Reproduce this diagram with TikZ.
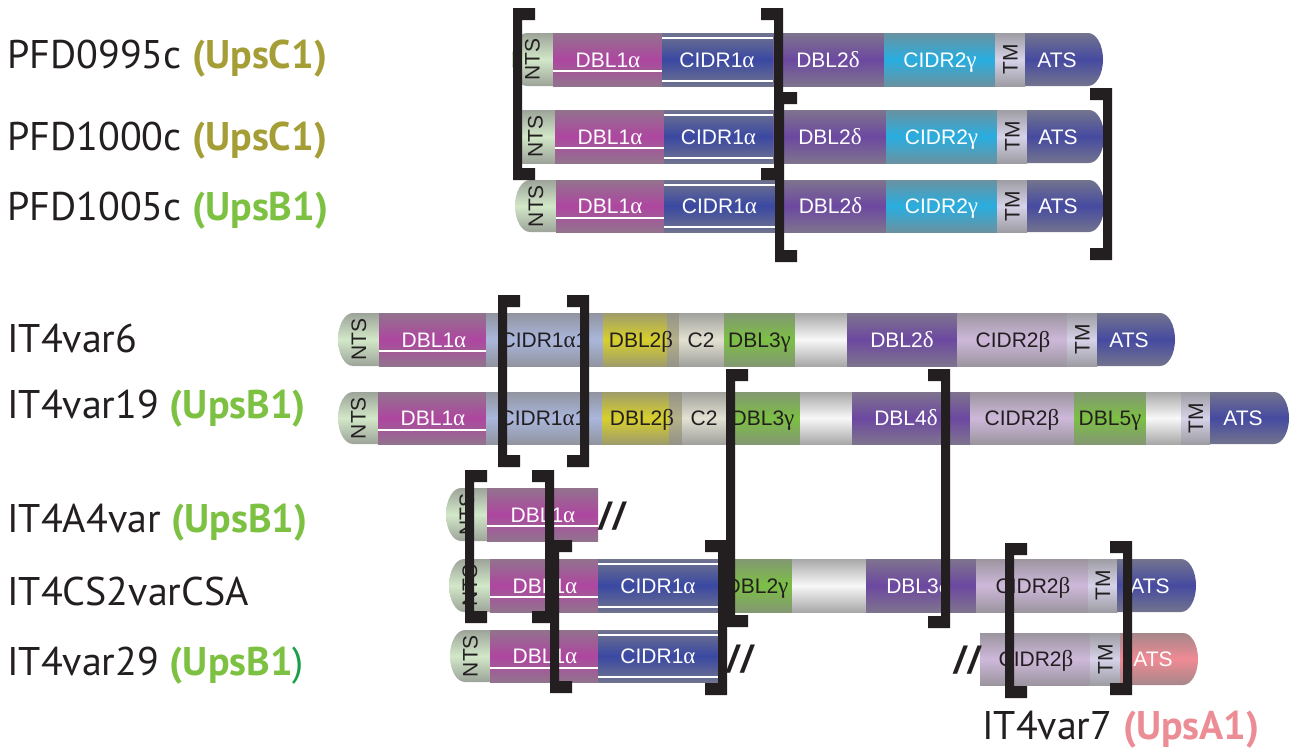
\documentclass[tikz,border=0pt]{standalone}
\usepackage{fontspec}
\newfontfamily\segfam{Liberation Sans}
\newfontfamily\grkfam{Liberation Serif}
\newfontfamily\lblfam{PT Sans}
\definecolor{edgegray}{HTML}{868686}
\definecolor{ntscol}{HTML}{D2E8C8}
\definecolor{dbla}{HTML}{AE46A0}
\definecolor{cidra}{HTML}{3A48A2}
\definecolor{dbld}{HTML}{6C48A0}
\definecolor{cidrg}{HTML}{28AEE0}
\definecolor{tmcol}{HTML}{D6D2E8}
\definecolor{atscol}{HTML}{464AA0}
\definecolor{cidral}{HTML}{AAB6DC}
\definecolor{dblb}{HTML}{D8D02C}
\definecolor{stripcol}{HTML}{B4B08A}
\definecolor{c2col}{HTML}{E2E1D2}
\definecolor{dblg}{HTML}{7CC044}
\definecolor{blankcol}{HTML}{F8F8F8}
\definecolor{cidrb}{HTML}{CEB8DA}
\definecolor{atspink}{HTML}{F08A94}
\definecolor{brkcol}{HTML}{231F20}
\definecolor{txtdark}{HTML}{231F20}
\definecolor{upsc}{HTML}{A59E36}
\definecolor{upsb}{HTML}{7DC142}
\definecolor{upsa}{HTML}{EC8C95}
\definecolor{parengreen}{HTML}{1AA04A}
\newcommand\segfont{\segfam\fontsize{21}{21}\selectfont}
\newcommand\lblfont{\lblfam\fontsize{40}{40}\selectfont}
\newcommand\slashfont{\segfam\bfseries\itshape\fontsize{38}{38}\selectfont}
\newcommand\gk[1]{{\grkfam\fontsize{23}{23}\selectfont #1}}
% plain segment: x1 x2 top bottom colour
\newcommand\seg[5]{\shade[top color=#5!30!edgegray, bottom color=#5!30!edgegray, middle color=#5] (#1,#3) rectangle (#2,#4);}
% segment rounded on the left
\newcommand\segL[5]{\pgfmathsetmacro\segry{(#4-#3)/2}%
  \shade[top color=#5!30!edgegray, bottom color=#5!30!edgegray, middle color=#5] ({#1+15},#3) arc[start angle=90,end angle=270,x radius=15pt,y radius=\segry pt] -- (#2,#4) -- (#2,#3) -- cycle;}
% segment rounded on the right
\newcommand\segR[5]{\pgfmathsetmacro\segry{(#4-#3)/2}%
  \shade[top color=#5!30!edgegray, bottom color=#5!30!edgegray, middle color=#5] (#1,#3) -- ({#2-15},#3) arc[start angle=90,end angle=-90,x radius=15pt,y radius=\segry pt] -- (#1,#4) -- cycle;}
% brackets: x (outer edge), top, bottom
\newcommand\lbrk[3]{\fill[brk] (#1,#2) -- ({#1+22},#2) -- ({#1+22},{#2+12}) -- ({#1+9},{#2+12}) -- ({#1+9},{#3-12}) -- ({#1+22},{#3-12}) -- ({#1+22},#3) -- (#1,#3) -- cycle;}
\newcommand\rbrk[3]{\fill[brk] (#1,#2) -- ({#1-22},#2) -- ({#1-22},{#2+12}) -- ({#1-9},{#2+12}) -- ({#1-9},{#3-12}) -- ({#1-22},{#3-12}) -- ({#1-22},#3) -- (#1,#3) -- cycle;}
\tikzset{
  seglabel/.style={font=\segfont, inner sep=0pt, text height=15pt, text depth=0pt},
  wt/.style={seglabel, text=white},
  bk/.style={seglabel, text=txtdark},
  rotlabel/.style={seglabel, text=txtdark, rotate=90},
  brk/.style={fill=brkcol},
  wline/.style={draw=white, line width=1.2pt},
  rowname/.style={font=\lblfont, anchor=base west, inner sep=0pt, text=txtdark},
  slashmark/.style={font=\slashfont, text=brkcol, inner sep=0pt}
}
\begin{document}
\begin{tikzpicture}[x=1pt,y=-1pt]
\fill[white] (0,0) rectangle (1292,750);
\useasboundingbox (0,0) rectangle (1292,750);

% ---------- Row 1 : PFD0995c ----------
\segL{512}{553}{33}{86}{ntscol}
\seg{553}{662}{33}{86}{dbla}
\seg{662}{773}{33}{86}{cidra}
\seg{773}{884}{33}{86}{dbld}
\seg{884}{995}{33}{86}{cidrg}
\seg{995}{1025}{33}{86}{tmcol}
\segR{1025}{1103}{33}{86}{atscol}
\draw[wline] (553,71) -- (662,71);
\draw[wline] (662,38) -- (773,38);
\draw[wline] (662,81) -- (773,81);
\node[rotlabel] (r1nts) at (532,59.5) {NTS};
\node[wt] (r1dbla) at (608,59.5) {DBL1\gk{α}};
\node[wt] (r1cidra) at (717,59.5) {CIDR1\gk{α}};
\node[wt] (r1dbld) at (828,59.5) {DBL2\gk{δ}};
\node[wt] (r1cidrg) at (940,59.5) {CIDR2\gk{γ}};
\node[rotlabel] (r1tm) at (1010,59.5) {TM};
\node[wt] (r1ats) at (1057,59.5) {ATS};

% ---------- Row 2 : PFD1000c ----------
\seg{515}{555}{110}{163}{ntscol}
\seg{555}{664}{110}{163}{dbla}
\seg{664}{773}{110}{163}{cidra}
\seg{773}{886}{110}{163}{dbld}
\seg{886}{997}{110}{163}{cidrg}
\seg{997}{1027}{110}{163}{tmcol}
\segR{1027}{1104}{110}{163}{atscol}
\draw[wline] (555,148) -- (664,148);
\draw[wline] (664,115) -- (773,115);
\draw[wline] (664,158) -- (773,158);
\node[rotlabel] (r2nts) at (535,136.5) {NTS};
\node[wt] (r2dbla) at (610,136.5) {DBL1\gk{α}};
\node[wt] (r2cidra) at (718.5,136.5) {CIDR1\gk{α}};
\node[wt] (r2dbld) at (830,136.5) {DBL2\gk{δ}};
\node[wt] (r2cidrg) at (941.5,136.5) {CIDR2\gk{γ}};
\node[rotlabel] (r2tm) at (1012,136.5) {TM};
\node[wt] (r2ats) at (1058,136.5) {ATS};

% ---------- Row 3 : PFD1005c ----------
\segL{515}{556}{180}{232}{ntscol}
\seg{556}{664}{180}{232}{dbla}
\seg{664}{775}{180}{232}{cidra}
\seg{775}{886}{180}{232}{dbld}
\seg{886}{997}{180}{232}{cidrg}
\seg{997}{1027}{180}{232}{tmcol}
\segR{1027}{1104}{180}{232}{atscol}
\draw[wline] (556,218) -- (664,218);
\draw[wline] (664,185) -- (775,185);
\draw[wline] (664,227) -- (775,227);
\node[rotlabel] (r3nts) at (535.5,206) {NTS};
\node[wt] (r3dbla) at (610,206) {DBL1\gk{α}};
\node[wt] (r3cidra) at (719.5,206) {CIDR1\gk{α}};
\node[wt] (r3dbld) at (830.5,206) {DBL2\gk{δ}};
\node[wt] (r3cidrg) at (941.5,206) {CIDR2\gk{γ}};
\node[rotlabel] (r3tm) at (1012,206) {TM};
\node[wt] (r3ats) at (1058,206) {ATS};

% ---------- Row 4 : IT4var6 ----------
\segL{338}{379}{313}{366}{ntscol}
\seg{379}{486}{313}{366}{dbla}
\seg{486}{603}{313}{366}{cidral}
\seg{603}{667}{313}{366}{dblb}
\seg{667}{679}{313}{366}{stripcol}
\seg{679}{724}{313}{366}{c2col}
\seg{724}{795}{313}{366}{dblg}
\seg{795}{847}{313}{366}{blankcol}
\seg{847}{957}{313}{366}{dbld}
\seg{957}{1067}{313}{366}{cidrb}
\seg{1067}{1097}{313}{366}{tmcol}
\segR{1097}{1175}{313}{366}{atscol}
\draw[wline] (379,351) -- (486,351);
\node[rotlabel] (r4nts) at (358.5,339.5) {NTS};
\node[wt] (r4dbla) at (434,339.5) {DBL1\gk{α}};
\node[bk] (r4cidra) at (544,339.5) {CIDR1\gk{α}1};
\node[bk] (r4dblb) at (641,339.5) {DBL2\gk{β}};
\node[bk] (r4c2) at (701,339.5) {C2};
\node[bk] (r4dblg) at (759.5,339.5) {DBL3\gk{γ}};
\node[wt] (r4dbld) at (902,339.5) {DBL2\gk{δ}};
\node[bk] (r4cidrb) at (1013,339.5) {CIDR2\gk{β}};
\node[rotlabel] (r4tm) at (1082,339.5) {TM};
\node[wt] (r4ats) at (1129,339.5) {ATS};

% ---------- Row 5 : IT4var19 ----------
\segL{338}{378}{392}{444}{ntscol}
\seg{378}{486}{392}{444}{dbla}
\seg{486}{602}{392}{444}{cidral}
\seg{602}{669}{392}{444}{dblb}
\seg{669}{682}{392}{444}{stripcol}
\seg{682}{726}{392}{444}{c2col}
\seg{726}{800}{392}{444}{dblg}
\seg{800}{852}{392}{444}{blankcol}
\seg{852}{970}{392}{444}{dbld}
\seg{970}{1074}{392}{444}{cidrb}
\seg{1074}{1146}{392}{444}{dblg}
\seg{1146}{1181}{392}{444}{blankcol}
\seg{1181}{1210}{392}{444}{tmcol}
\segR{1210}{1289}{392}{444}{atscol}
\draw[wline] (378,430) -- (486,430);
\node[rotlabel] (r5nts) at (358,418) {NTS};
\node[wt] (r5dbla) at (433,418) {DBL1\gk{α}};
\node[bk] (r5cidra) at (543,418) {CIDR1\gk{α}1};
\node[bk] (r5dblb) at (642,418) {DBL2\gk{β}};
\node[bk] (r5c2) at (704,418) {C2};
\node[bk] (r5dblg) at (763,418) {DBL3\gk{γ}};
\node[wt] (r5dbld) at (906,418) {DBL4\gk{δ}};
\node[bk] (r5cidrb) at (1022,418) {CIDR2\gk{β}};
\node[bk] (r5dblg5) at (1110,418) {DBL5\gk{γ}};
\node[rotlabel] (r5tm) at (1195.5,418) {TM};
\node[wt] (r5ats) at (1243,418) {ATS};

% ---------- Row 6 : IT4A4var ----------
\segL{446}{487}{488}{541}{ntscol}
\seg{487}{598}{488}{541}{dbla}
\draw[wline] (487,526) -- (598,526);
\node[rotlabel] (r6nts) at (466.5,514.5) {NTS};
\node[wt] (r6dbla) at (543,514.5) {DBL1\gk{α}};
\node[slashmark] (r6cut) at (612,516) {/\kern3pt/};

% ---------- Row 7 : IT4CS2varCSA ----------
\segL{449}{490}{559}{612}{ntscol}
\seg{490}{598}{559}{612}{dbla}
\seg{598}{718}{559}{612}{cidra}
\seg{718}{792}{559}{612}{dblg}
\seg{792}{866}{559}{612}{blankcol}
\seg{866}{976}{559}{612}{dbld}
\seg{976}{1088}{559}{612}{cidrb}
\seg{1088}{1117}{559}{612}{tmcol}
\segR{1117}{1196}{559}{612}{atscol}
\draw[wline] (490,597) -- (598,597);
\draw[wline] (598,564) -- (718,564);
\draw[wline] (598,607) -- (718,607);
\node[rotlabel] (r7nts) at (469.5,585.5) {NTS};
\node[wt] (r7dbla) at (545,585.5) {DBL1\gk{α}};
\node[wt] (r7cidra) at (658,585.5) {CIDR1\gk{α}};
\node[bk] (r7dblg) at (757,585.5) {DBL2\gk{γ}};
\node[wt] (r7dbld) at (918,585.5) {DBL3\gk{δ}};
\node[bk] (r7cidrb) at (1033,585.5) {CIDR2\gk{β}};
\node[rotlabel] (r7tm) at (1102.5,585.5) {TM};
\node[wt] (r7ats) at (1150,585.5) {ATS};

% ---------- Row 8 : IT4var29 ----------
\segL{450}{490}{630}{682}{ntscol}
\seg{490}{598}{630}{682}{dbla}
\seg{598}{718}{630}{682}{cidra}
\draw[wline] (490,668) -- (598,668);
\draw[wline] (598,635) -- (718,635);
\draw[wline] (598,677) -- (718,677);
\node[rotlabel] (r8nts) at (470,656) {NTS};
\node[wt] (r8dbla) at (545,656) {DBL1\gk{α}};
\node[wt] (r8cidra) at (658,656) {CIDR1\gk{α}};
\node[slashmark] (r8cut) at (740,659) {/\kern3pt/};

% ---------- Row 8b : IT4var7 ----------
\seg{980}{1090}{633}{685}{cidrb}
\seg{1090}{1120}{633}{685}{tmcol}
\segR{1120}{1198}{633}{685}{atspink}
\node[slashmark] (r9cut) at (967,660) {/\kern3pt/};
\node[bk] (r9cidrb) at (1036,659) {CIDR2\gk{β}};
\node[rotlabel] (r9tm) at (1105,659) {TM};
\node[wt] (r9ats) at (1153,659) {ATS};

% ---------- brackets ----------
\lbrk{513}{8}{180}
\rbrk{783}{8}{180}
\lbrk{775}{92}{262}
\rbrk{1112}{88}{260}
\lbrk{498}{295}{467}
\rbrk{589}{295}{467}
\lbrk{726}{369}{627}
\rbrk{950}{369}{628}
\lbrk{465}{470}{623}
\rbrk{554}{470}{623}
\lbrk{550}{540}{693}
\rbrk{727}{540}{695}
\lbrk{1005}{543}{698}
\rbrk{1132}{541}{695}

% ---------- row names ----------
\node[rowname] (n1) at (7,68) {PFD0995c \textcolor{upsc}{\bfseries(UpsC1)}};
\node[rowname] (n2) at (7,150) {PFD1000c \textcolor{upsc}{\bfseries(UpsC1)}};
\node[rowname] (n3) at (7,220) {PFD1005c \textcolor{upsb}{\bfseries(UpsB1)}};
\node[rowname] (n4) at (7,352) {IT4var6};
\node[rowname] (n5) at (7,418) {IT4var19 \textcolor{upsb}{\bfseries(UpsB1)}};
\node[rowname] (n6) at (7,532) {IT4A4var \textcolor{upsb}{\bfseries(UpsB1)}};
\node[rowname] (n7) at (7,605) {IT4CS2varCSA};
\node[rowname] (n8) at (7,675) {IT4var29 \textcolor{upsb}{\bfseries(UpsB1}\textcolor{parengreen}{)}};
\node[rowname] (n9) at (982,739) {IT4var7 \textcolor{upsa}{\bfseries(UpsA1)}};
\end{tikzpicture}
\end{document}
